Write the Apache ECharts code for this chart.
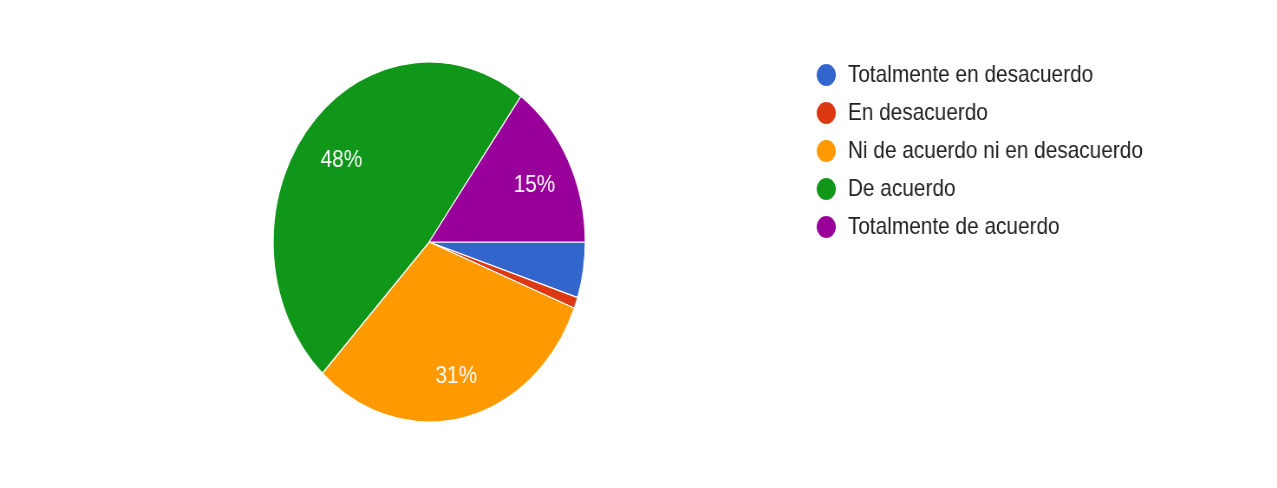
<!DOCTYPE html>
<html>
<head>
<meta charset="utf-8">
<script src="https://cdn.jsdelivr.net/npm/echarts@6/dist/echarts.min.js"></script>
<style>
  html, body { margin: 0; padding: 0; background: #ffffff; overflow: hidden; }
  #frame { position: absolute; left: 8px; top: 10px; width: 1400px; height: 600px;
           border-left: 1px solid #f3f3f3; border-top: 1px solid #f3f3f3; }
  #chart { position: absolute; left: 0; top: 0; width: 1473px; height: 488px;
           transform: scaleX(0.867); transform-origin: 0 0; }
</style>
</head>
<body>
<div id="frame"></div>
<div id="chart"></div>
<script>
const categories = [
  'Totalmente en desacuerdo',
  'En desacuerdo',
  'Ni de acuerdo ni en desacuerdo',
  'De acuerdo',
  'Totalmente de acuerdo'
];
const values = [5, 1, 31, 48, 15];
const colors = ['#3366cc', '#dc3912', '#ff9900', '#109618', '#990099'];
const showLabel = [false, false, true, true, true];

const total = values.reduce((a, b) => a + b, 0);
const baseData = categories.map((c, i) => ({ name: c, value: values[i], itemStyle: { color: colors[i] } }));
const labelData = categories.map((c, i) => ({
  name: c, value: values[i],
  itemStyle: { color: 'rgba(0,0,0,0)' },
  label: { show: showLabel[i] }
}));

const chart = echarts.init(document.getElementById('chart'), null, { renderer: 'canvas' });
chart.setOption({
  animation: false,
  backgroundColor: '#ffffff',
  color: colors,
  legend: {
    orient: 'vertical',
    left: 935,
    top: 57,
    icon: 'circle',
    itemWidth: 24,
    itemHeight: 24,
    itemGap: 12,
    data: categories,
    textStyle: {
      fontFamily: 'Liberation Sans, Arial, sans-serif',
      fontSize: 24,
      color: '#222222',
      lineHeight: 24,
      padding: [0, 0, 0, 8]
    }
  },
  series: [
    {
      type: 'pie',
      center: [495, 242],
      radius: [0, 180],
      startAngle: 0,
      clockwise: true,
      silent: true,
      label: { show: false },
      labelLine: { show: false },
      itemStyle: { borderColor: '#ffffff', borderWidth: 1.2 },
      data: baseData
    },
    {
      type: 'pie',
      center: [495, 242],
      radius: [82, 180],
      startAngle: 0,
      clockwise: true,
      silent: true,
      legendHoverLink: false,
      label: {
        show: true,
        position: 'inside',
        color: '#ffffff',
        fontFamily: 'Liberation Sans, Arial, sans-serif',
        fontSize: 24,
        offset: [2, 4],
        formatter: p => Math.round(p.value / total * 100) + '%'
      },
      labelLine: { show: false },
      itemStyle: { borderWidth: 0 },
      data: labelData
    }
  ]
});
</script>
</body>
</html>
